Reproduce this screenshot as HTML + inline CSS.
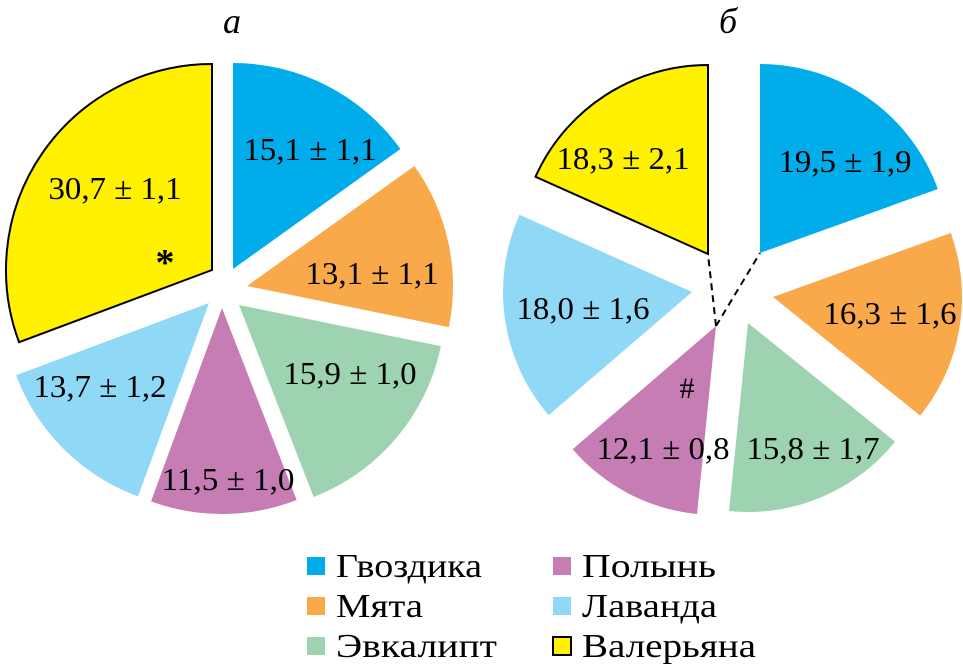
<!DOCTYPE html>
<html><head><meta charset="utf-8"><style>
html,body{margin:0;padding:0;background:#fff;}
svg{display:block;}
text{font-family:"Liberation Serif","DejaVu Serif",serif;fill:#000;}
</style></head><body>
<svg id="chart" width="963" height="667" viewBox="0 0 963 667" xmlns="http://www.w3.org/2000/svg">
<text x="232" y="33" font-size="36" font-style="italic" text-anchor="middle">а</text>
<text x="728" y="33" font-size="36" font-style="italic" text-anchor="middle">б</text>
<g id="pieA"></g><g id="pieB"></g><g id="legend"></g>
</svg>
<script>
const categories = ["Гвоздика","Мята","Эвкалипт","Полынь","Лаванда","Валерьяна"];
const valuesA = [15.1, 13.1, 15.9, 11.5, 13.7, 30.7];
const errorsA = [1.1, 1.1, 1.0, 1.0, 1.2, 1.1];
const valuesB = [19.5, 16.3, 15.8, 12.1, 18.0, 18.3];
const errorsB = [1.9, 1.6, 1.7, 0.8, 1.6, 2.1];
const colors = ["#00adea","#f9a84a","#9dd3b0","#c57db3","#8fd8f6","#fff100"];
// layout (not data)
const apexA = [[233,269],[247,286],[239,305],[222,308],[209,303],[212,270]];
const apexB = [[760,253],[773,297],[748,323],[716,326],[692,292],[708,254]];
const labelA = [[310,159],[372,283],[350,383],[228,489],[100,396],[115,198]];
const labelB = [[845,171],[890,323],[813,458],[663,458],[583,318],[623,168]];
const legendWidths = [146,87,161,134,135,174];
const NS = "http://www.w3.org/2000/svg";
function mk(tag, attrs, parent){const e=document.createElementNS(NS,tag);for(const k in attrs)e.setAttribute(k,attrs[k]);parent.appendChild(e);return e;}
function fmt(v){return v.toFixed(1).replace('.',',');}
function drawPie(gid, values, errors, apex, labels, r, chartName){
  const g=document.getElementById(gid);
  const total=values.reduce((a,b)=>a+b,0);
  let acc=0;
  values.forEach((v,i)=>{
    const a0=acc/total*2*Math.PI, a1=(acc+v)/total*2*Math.PI; acc+=v;
    const [cx,cy]=apex[i];
    const x0=cx+r*Math.sin(a0), y0=cy-r*Math.cos(a0);
    const x1=cx+r*Math.sin(a1), y1=cy-r*Math.cos(a1);
    const large=(a1-a0)>Math.PI?1:0;
    const p=mk('path',{d:`M${cx},${cy} L${x0},${y0} A${r},${r} 0 ${large} 1 ${x1},${y1} Z`,fill:colors[i],stroke:i===5?'#000':'none','stroke-width':2},g);
    
    
    const t=mk('text',{x:labels[i][0],y:labels[i][1]+1,'font-size':32,'text-anchor':'middle',textLength:133,lengthAdjust:'spacingAndGlyphs'},g);
    t.textContent=fmt(v)+' ± '+fmt(errors[i]);
    
    
  });
}
drawPie('pieA',valuesA,errorsA,apexA,labelA,206,'chart-a');
drawPie('pieB',valuesB,errorsB,apexB,labelB,189,'chart-b');
const gA=document.getElementById('pieA');
const star=mk('text',{x:165,y:275,'font-size':38,'font-weight':'bold','text-anchor':'middle'},gA);
star.textContent='*';


const gB=document.getElementById('pieB');
const hash=mk('text',{x:687,y:398,'font-size':30,'text-anchor':'middle'},gB);
hash.textContent='#';


const d1=mk('line',{x1:716,y1:326,x2:708,y2:254,stroke:'#000','stroke-width':2,'stroke-dasharray':'7,5'},gB);


const d2=mk('line',{x1:716,y1:326,x2:760,y2:253,stroke:'#000','stroke-width':2,'stroke-dasharray':'7,5'},gB);


const lg=document.getElementById('legend');
const legendOrder=[0,1,2,3,4,5];
legendOrder.forEach((idx,k)=>{
  const col=Math.floor(k/3), row=k%3;
  const sx=col?553:307, baseY=[577,617,657][row];
  const s=mk('rect',{x:sx,y:baseY-20,width:18,height:18,fill:colors[idx],stroke:idx===5?'#000':'none','stroke-width':2},lg);
  
  
  const t=mk('text',{x:sx+29,y:baseY,'font-size':34,textLength:legendWidths[idx],lengthAdjust:'spacingAndGlyphs'},lg);
  t.textContent=categories[idx];
  
  
});
</script>
</body></html>
